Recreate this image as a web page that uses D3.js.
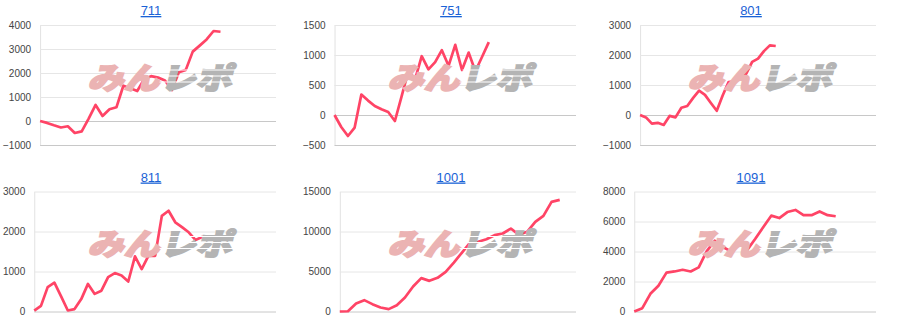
<!DOCTYPE html>
<html>
<head>
<meta charset="utf-8">
<script src="https://cdn.jsdelivr.net/npm/d3@7"></script>
<style>
    body { margin: 0; background: #fff; }
    .axis text { font-family: Arial, "Liberation Sans", sans-serif; font-size: 10px; fill: #444; }
    .title { font-family: Arial, "Liberation Sans", sans-serif; font-size: 13px; fill: #1a62d6; text-decoration: underline; }
    .mark { font-family: "Noto Sans CJK JP", sans-serif; font-weight: 900; font-size: 30px; }
</style>
</head>
<body>
<svg id="chart" width="900" height="333"></svg>
<script>
let titles = ["711", "751", "801", "811", "1001", "1091"];

let s711 = [0, -80, -180, -270, -220, -500, -430, 100, 670, 210, 490, 570, 1470, 1360, 1250, 1740, 1870, 1810, 1690, 1290, 2030, 2130, 2890, 3140, 3400, 3750, 3720];
let s751 = [0, -200, -350, -210, 340, 240, 150, 95, 50, -100, 310, 730, 590, 980, 760, 880, 1080, 820, 1170, 750, 1040, 730, 970, 1215];
let s801 = [0, -80, -290, -260, -330, -30, -80, 240, 300, 570, 810, 670, 400, 140, 650, 1100, 1120, 1230, 1380, 1770, 1880, 2130, 2320, 2300];
let s811 = [20, 140, 610, 720, 380, 25, 60, 310, 690, 440, 520, 860, 960, 900, 750, 1380, 1060, 1390, 1390, 2390, 2520, 2230, 2110, 1980, 1790, 1860, 1810];
let s1001 = [0, 30, 1000, 1420, 920, 500, 300, 790, 1750, 3120, 4170, 3830, 4210, 4960, 6120, 7370, 8620, 8710, 9040, 9540, 9750, 10370, 9580, 9960, 11210, 11960, 13710, 13960];
let s1091 = [0, 220, 1180, 1720, 2590, 2670, 2780, 2670, 2940, 4030, 4720, 4300, 4010, 4790, 4090, 4830, 5620, 6390, 6230, 6630, 6770, 6420, 6420, 6670, 6420, 6350];

let series = [s711, s751, s801, s811, s1001, s1091];

let ticks711 = [-1000, 0, 1000, 2000, 3000, 4000];
let ticks751 = [-500, 0, 500, 1000, 1500];
let ticks801 = [-1000, 0, 1000, 2000, 3000];
let ticks811 = [0, 1000, 2000, 3000];
let ticks1001 = [0, 5000, 10000, 15000];
let ticks1091 = [0, 2000, 4000, 6000, 8000];

let tickSets = [ticks711, ticks751, ticks801, ticks811, ticks1001, ticks1091];

// number of day slots on the hidden x axis of each chart
let xSpan = [34, 36, 40, 36, 29, 30];

let svg = d3.select("#chart");

let panelW = 300;
let plotH = 120;
let rightEdge = 276;

// width of the widest tick label, so the plot starts right after it
function labelWidth(labels) {
    let tmp = svg.append("g").attr("class", "axis");
    let w = 0;
    labels.forEach((t) => {
        let node = tmp.append("text").text(t).node();
        w = Math.max(w, node.getComputedTextLength());
    });
    tmp.remove();
    return w;
}

titles.forEach((name, i) => {
    let col = i % 3;
    let row = Math.floor(i / 3);
    let px = col * panelW;
    let py = row * 166.5;

    let ticks = tickSets[i];
    let left = 3 + labelWidth(ticks.map(d3.format("d"))) + 9;
    let top = 25;

    let g = svg.append("g")
        .attr("transform", "translate(" + px + ", " + py + ")");

    g.append("text")
        .attr("class", "title")
        .attr("x", 151)
        .attr("y", 15)
        .attr("text-anchor", "middle")
        .text(name);

    let plot = g.append("g")
        .attr("transform", "translate(" + left + ", " + top + ")");

    let w = rightEdge - left;

    let x = d3.scaleLinear()
        .domain([0, xSpan[i]])
        .range([0, w]);

    let y = d3.scaleLinear()
        .domain([ticks[0], ticks[ticks.length - 1]])
        .range([plotH, 0]);

    let yAxis = d3.axisLeft(y)
        .tickValues(ticks)
        .tickFormat(d3.format("d"))
        .tickSize(-w)
        .tickSizeOuter(0)
        .tickPadding(9);

    let ax = plot.append("g")
        .attr("class", "axis")
        .call(yAxis);

    ax.select(".domain")
        .attr("stroke", "#e2e2e2");

    ax.selectAll(".tick line")
        .attr("stroke", (d) => (d === 0 || d === ticks[0]) ? "#c8c8c8" : "#e6e6e6");

    // watermark logo
    let logo = g.append("g")
        .attr("transform", "translate(20, 0) skewX(-14)");

    let mark = logo.append("text")
        .attr("class", "mark")
        .attr("x", 90)
        .attr("y", 89)
        .attr("textLength", 144)
        .attr("lengthAdjust", "spacingAndGlyphs");

    mark.append("tspan")
        .attr("fill", "#ebb3b3")
        .attr("stroke", "#ebb3b3")
        .attr("stroke-width", 1.8)
        .text("みん");

    mark.append("tspan")
        .attr("fill", "#b4b4b4")
        .attr("stroke", "#b4b4b4")
        .attr("stroke-width", 1.8)
        .text("レポ");

    // speed lines cutting through the logo
    [70, 76, 82].forEach((ly) => {
        logo.append("line")
            .attr("x1", 160)
            .attr("x2", 245)
            .attr("y1", ly)
            .attr("y2", ly)
            .attr("stroke", "#fff")
            .attr("stroke-width", 1);
    });

    let line = d3.line()
        .x((d, j) => x(j))
        .y((d) => y(d));

    plot.append("path")
        .datum(series[i])
        .attr("fill", "none")
        .attr("stroke", "#ff4466")
        .attr("stroke-width", 2.7)
        .attr("stroke-linejoin", "round")
        .attr("d", line);
});
</script>
</body>
</html>
